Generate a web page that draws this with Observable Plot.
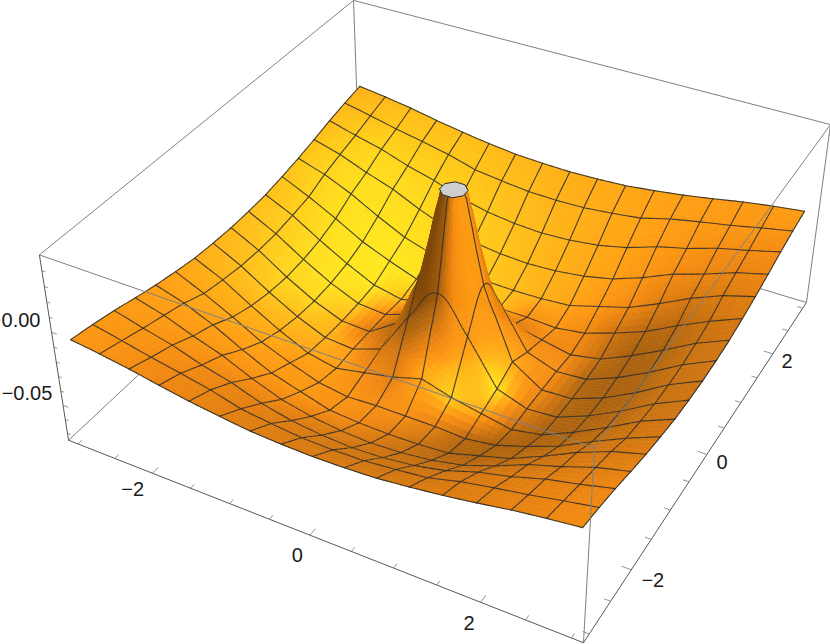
<!DOCTYPE html>
<html><head><meta charset="utf-8">
<script src="https://cdn.jsdelivr.net/npm/d3@7"></script>
<script src="https://cdn.jsdelivr.net/npm/@observablehq/plot@0.6"></script>
<style>html,body{margin:0;padding:0;background:#fff}svg{display:block}</style>
</head><body><div id="chart"></div>
<script>
const gridStep = 0.375;
const zRows = [
[-.007,-.0095,-.0125,-.0162,-.0195,-.0222,-.0245,-.0255,-.026,-.0255,-.0245,-.0222,-.0195,-.0162,-.0125,-.0095,-.007],
[-.0095,-.0135,-.0178,-.0215,-.0255,-.031,-.0335,-.0355,-.036,-.0355,-.0335,-.031,-.0255,-.0215,-.0178,-.0135,-.0095],
[-.0125,-.0178,-.0225,-.029,-.034,-.041,-.0455,-.048,-.049,-.048,-.0455,-.041,-.034,-.029,-.0225,-.0178,-.0125],
[-.0162,-.0215,-.029,-.0355,-.0445,-.052,-.0565,-.059,-.060,-.059,-.0565,-.052,-.0445,-.0355,-.029,-.0215,-.0162],
[-.0195,-.0255,-.034,-.0445,-.054,-.060,-.066,-.0675,-.068,-.0675,-.066,-.060,-.054,-.0445,-.034,-.0255,-.0195],
[-.0222,-.031,-.041,-.052,-.060,-.067,-.070,-.069,-.069,-.069,-.070,-.067,-.060,-.052,-.041,-.031,-.0222],
[-.0245,-.0335,-.0455,-.0565,-.066,-.070,-.066,-.062,-.056,-.062,-.066,-.070,-.066,-.0565,-.0455,-.0335,-.0245],
[-.0255,-.0355,-.048,-.059,-.0675,-.069,-.062,-.032,-.009,-.032,-.062,-.069,-.0675,-.059,-.048,-.0355,-.0255],
[-.026,-.036,-.049,-.060,-.068,-.069,-.056,-.009,.048,-.009,-.056,-.069,-.068,-.060,-.049,-.036,-.026],
[-.0255,-.0355,-.048,-.059,-.0675,-.069,-.062,-.032,-.009,-.032,-.062,-.069,-.0675,-.059,-.048,-.0355,-.0255],
[-.0245,-.0335,-.0455,-.0565,-.066,-.070,-.066,-.062,-.056,-.062,-.066,-.070,-.066,-.0565,-.0455,-.0335,-.0245],
[-.0222,-.031,-.041,-.052,-.060,-.067,-.070,-.069,-.069,-.069,-.070,-.067,-.060,-.052,-.041,-.031,-.0222],
[-.0195,-.0255,-.034,-.0445,-.054,-.060,-.066,-.0675,-.068,-.0675,-.066,-.060,-.054,-.0445,-.034,-.0255,-.0195],
[-.0162,-.0215,-.029,-.0355,-.0445,-.052,-.0565,-.059,-.060,-.059,-.0565,-.052,-.0445,-.0355,-.029,-.0215,-.0162],
[-.0125,-.0178,-.0225,-.029,-.034,-.041,-.0455,-.048,-.049,-.048,-.0455,-.041,-.034,-.029,-.0225,-.0178,-.0125],
[-.0095,-.0135,-.0178,-.0215,-.0255,-.031,-.0335,-.0355,-.036,-.0355,-.0335,-.031,-.0255,-.0215,-.0178,-.0135,-.0095],
[-.007,-.0095,-.0125,-.0162,-.0195,-.0222,-.0245,-.0255,-.026,-.0255,-.0245,-.0222,-.0195,-.0162,-.0125,-.0095,-.007]
];
const shadeRows = [
[.80,.82,.84,.84,.84,.84,.82,.80,.78,.76,.75,.74,.72,.71,.70,.70,.70],
[.82,.86,.88,.88,.88,.87,.85,.83,.80,.78,.76,.74,.72,.70,.68,.67,.66],
[.84,.90,.93,.93,.92,.90,.88,.85,.82,.79,.76,.74,.70,.66,.62,.60,.60],
[.86,.92,.96,.96,.95,.93,.90,.87,.83,.79,.76,.72,.66,.60,.56,.54,.55],
[.87,.93,.97,.98,.98,.96,.92,.88,.84,.79,.74,.68,.58,.48,.44,.46,.50],
[.86,.92,.97,.99,1,.98,.94,.90,.84,.62,.66,.58,.40,.32,.32,.40,.44],
[.85,.90,.96,.99,1,.85,.50,.50,.60,.45,.58,.58,.35,.25,.28,.38,.42],
[.84,.89,.95,.98,.92,.60,.35,.50,.66,.60,.65,.62,.27,.25,.28,.38,.42],
[.82,.87,.93,.94,.82,.45,.30,.55,.66,.60,.78,.58,.29,.25,.28,.38,.40],
[.80,.84,.88,.84,.80,.70,.42,.30,.66,.70,1,.50,.28,.25,.30,.38,.40],
[.77,.80,.80,.78,.74,.72,.62,.50,.75,.92,.76,.36,.25,.27,.32,.39,.42],
[.74,.76,.76,.74,.70,.68,.65,.62,.62,.50,.32,.27,.27,.32,.37,.42,.44],
[.72,.73,.72,.70,.68,.68,.62,.58,.47,.38,.29,.28,.33,.37,.42,.44,.48],
[.70,.70,.68,.66,.62,.58,.52,.48,.43,.38,.34,.33,.35,.40,.44,.48,.52],
[.69,.67,.64,.60,.55,.52,.48,.44,.42,.40,.38,.38,.42,.46,.50,.53,.56],
[.68,.65,.61,.57,.54,.50,.47,.44,.42,.41,.41,.42,.45,.49,.52,.56,.58],
[.68,.64,.60,.56,.54,.51,.49,.47,.46,.45,.44,.45,.47,.50,.53,.56,.60]
];
const peakRadii = [.15,.16,.20,.27,.375,.53];
const peakHeights = [.048,.042,.034,.0155,-.009,-.032];
const peakAngles = [-180,-150,-120,-90,-60,-30,0,30,60,90,120,150,180];
const peakShades = [.15,.12,.12,.22,.62,.70,.68,.48,.56,.80,.80,.50,.15];
const capAngles = [-157.5,-112.5,-67.5,-22.5,22.5,67.5,112.5,157.5];
const capRadius = .155, capHeight = .048;
const rampStops = [0,.25,.45,.6,.72,.85,1];
const rampColors = ["#5a3208","#a8600e","#d97a10","#f58c12","#ff9f14","#ffbf18","#ffe81f"];
const boxHalf = 3.13, zLow = -.075, zHigh = .05;
const xTicks = [-3,-2.5,-2,-1.5,-1,-.5,0,.5,1,1.5,2,2.5,3];
const xLabels = [-2,0,2];
const xLabelShift = [-.06,.02,.02];
const yLabelShift = [.24,.18,.18];
const zTicks = [-.07,-.06,-.05,-.04,-.03,-.02,-.01,0,.01,.02,.03,.04];
const zLabels = [0,-.05];
const camera = [
 [71.0024, 58.27764, -254.006, 453.35025],
 [20.20746, -37.63988, -1618.296, 261.85715],
 [-.01868, .03348, -.5584, 1]
];
const proj = ([x,y,z])=>{const w=camera[2][0]*x+camera[2][1]*y+camera[2][2]*z+camera[2][3];
  return [(camera[0][0]*x+camera[0][1]*y+camera[0][2]*z+camera[0][3])/w,(camera[1][0]*x+camera[1][1]*y+camera[1][2]*z+camera[1][3])/w];};

const clamp01=v=>Math.max(0,Math.min(1,v));
const bil=(rows,x,y)=>{const c=Math.max(0,Math.min(15.9999,(x+3)/gridStep)),r=Math.max(0,Math.min(15.9999,(3-y)/gridStep));
  const c0=Math.floor(c),r0=Math.floor(r),a=c-c0,b=r-r0;
  return rows[r0][c0]*(1-a)*(1-b)+rows[r0][c0+1]*a*(1-b)+rows[r0+1][c0]*(1-a)*b+rows[r0+1][c0+1]*a*b;};
const profile=d3.scaleLinear().domain(peakRadii).range(peakHeights).clamp(true);
const angleShade=d3.scaleLinear().domain(peakAngles).range(peakShades);
const zAt=(x,y)=>{const r=Math.hypot(x,y),w=clamp01((.53-r)/.155);
  const t=w>0?profile(r):0,o=w<1?bil(zRows,x,y):0;return Math.min(capHeight,t*w+o*(1-w));};
const shadeAt=(x,y)=>{const r=Math.hypot(x,y),w=clamp01((.7-r)/.3);
  const p=w>0?angleShade(Math.atan2(y,x)*180/Math.PI):0,o=w<1?bil(shadeRows,x,y):0;return p*w+o*(1-w);};
const ramp=Plot.scale({color:{type:"linear",domain:rampStops,range:rampColors}});

// drawing lattice: every table cell is split for smooth colour, more finely around the peak
const lattice=[];
for(let k=0;k<16;k++){const n=(k>=6&&k<10)?12:4;for(let s=0;s<n;s++)lattice.push({t:k+s/n,mesh:s===0});}
lattice.push({t:16,mesh:true});
const wx=lattice.map(d=>-3+d.t*gridStep), wy=lattice.map(d=>3-d.t*gridStep), isMesh=lattice.map(d=>d.mesh);
const N=lattice.length-1;
const rows=[];let key=0;
const meshStroke="rgba(50,48,46,0.92)";
const P=(i,j)=>proj([wx[i],wy[j],zAt(wx[i],wy[j])]);
const inCap=(i,j)=>Math.hypot(wx[i],wy[j])<capRadius;
function seg(a,b,c,d){ if(inCap(a,b)&&inCap(c,d))return; const k=key++,p=P(a,b),q=P(c,d);
  rows.push({k,px:p[0],py:p[1],f:"none",s:meshStroke,w:1.1},{k,px:q[0],py:q[1],f:"none",s:meshStroke,w:1.1});}
for(let i=0;i<N;i++)for(let j=0;j<N;j++){
  if(!(inCap(i,j)&&inCap(i+1,j)&&inCap(i,j+1)&&inCap(i+1,j+1))){
    const col=ramp.apply(shadeAt((wx[i]+wx[i+1])/2,(wy[j]+wy[j+1])/2)),k=key++;
    for(const [a,b] of [[i,j],[i+1,j],[i+1,j+1],[i,j+1],[i,j]]){const p=P(a,b);rows.push({k,px:p[0],py:p[1],f:col,s:col,w:.6});}
  }
  if(isMesh[i])seg(i,j,i,j+1);
  if(isMesh[j])seg(i,j,i+1,j);
  if(i===N-1)seg(i+1,j,i+1,j+1);
  if(j===N-1)seg(i,j+1,i+1,j+1);
}
const capRows=capAngles.concat(capAngles[0]).map(a=>{const [px,py]=proj([capRadius*Math.cos(a*Math.PI/180),capRadius*Math.sin(a*Math.PI/180),capHeight]);return {px,py};});

const X=boxHalf,edge=(a,b)=>{const [x1,y1]=proj(a),[x2,y2]=proj(b);return {x1,y1,x2,y2};};
const backEdges=[edge([-X,X,zHigh],[-X,X,zLow]),edge([-X,-X,zHigh],[-X,X,zHigh]),edge([-X,X,zHigh],[X,X,zHigh]),edge([-X,-X,zLow],[-X,X,zLow]),edge([X,X,zLow],[-X,X,zLow]),edge([X,X,zHigh],[X,X,zLow])];
const frontEdges=[edge([-X,-X,zHigh],[X,-X,zHigh]),edge([X,-X,zHigh],[X,X,zHigh]),edge([X,-X,zHigh],[X,-X,zLow])];
const axisEdges=[edge([-X,-X,zHigh],[-X,-X,zLow]),edge([-X,-X,zLow],[X,-X,zLow]),edge([X,-X,zLow],[X,X,zLow])];
const isMajor=v=>xLabels.includes(v);
const ticks=[
 ...xTicks.map(v=>edge([v,-X,zLow],[v,-X+(isMajor(v)?.11:.07),zLow])),
 ...xTicks.map(v=>edge([X,v,zLow],[X-(isMajor(v)?.11:.07),v,zLow])),
 ...zTicks.map(v=>edge([-X,-X,v],[-X+((v===0||v===-.05)?.07:.045),-X,v]))];
const minus=s=>s.replace("-","\u2212");
const labels=[
 ...xLabels.map((v,i)=>{const [x,y]=proj([v+xLabelShift[i],-X-.28,zLow-.002]);return {x,y,t:minus(String(v))};}),
 ...xLabels.map((v,i)=>{const [x,y]=proj([X+yLabelShift[i],v,zLow-.002]);return {x,y,t:minus(String(v))};})];
const zLabelRows=zLabels.map(v=>{const [x,y]=proj([-X-.13,-X,v+.0055]);return {x,y,t:minus(v.toFixed(2))};});

const link=(data,stroke,w)=>Plot.link(data,{x1:"x1",y1:"y1",x2:"x2",y2:"y2",stroke,strokeWidth:w});
const chart=Plot.plot({width:830,height:644,margin:0,
  x:{domain:[0,830],axis:null},y:{domain:[644,0],axis:null},color:{type:"identity"},
  marks:[
    link(backEdges,"#808080",1),
    Plot.line(rows,{x:"px",y:"py",z:"k",fill:"f",stroke:"s",strokeWidth:"w"}),
    Plot.line(capRows,{x:"px",y:"py",fill:"#cfcfcf",stroke:"#2a2a2a",strokeWidth:1}),
    link(frontEdges,"#808080",1),
    link(axisEdges,"#585858",1),
    link(ticks,"#777",.8),
    Plot.text(labels,{x:"x",y:"y",text:"t",fontSize:20,fontFamily:"Liberation Sans",fill:"#1a1a1a",textAnchor:"middle"}),
    Plot.text(zLabelRows,{x:"x",y:"y",text:"t",fontSize:20,fontFamily:"Liberation Sans",fill:"#1a1a1a",textAnchor:"end"})
  ]});
document.getElementById("chart").append(chart);
</script></body></html>
